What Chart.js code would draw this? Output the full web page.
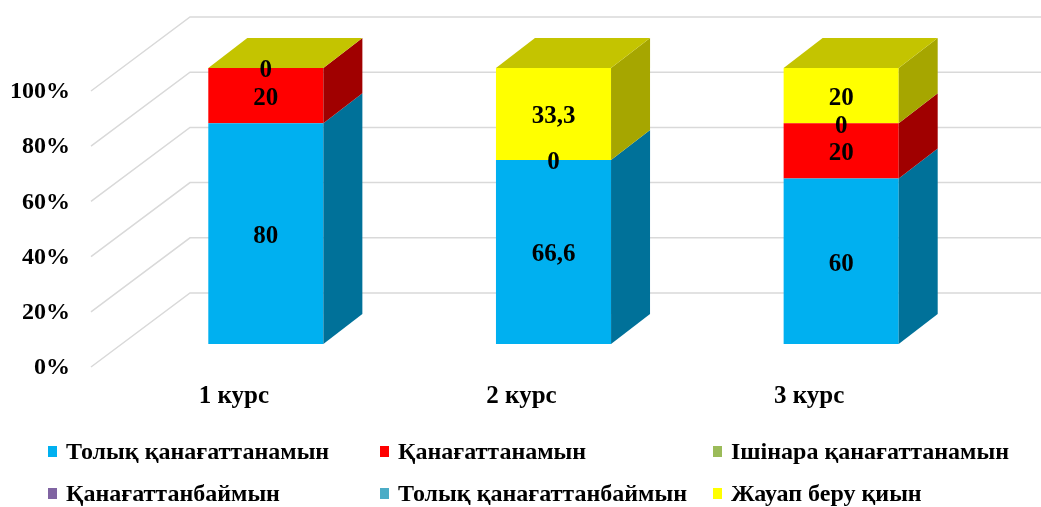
<!DOCTYPE html>
<html>
<head>
<meta charset="utf-8">
<script src="https://cdn.jsdelivr.net/npm/chart.js@4.4.1/dist/chart.umd.min.js"></script>
<style>
  html, body { margin: 0; padding: 0; background: #fff; }
  #wrap { width: 1041px; height: 507px; position: relative; }
</style>
</head>
<body>
<div id="wrap"><canvas id="chart" width="1041" height="507"></canvas></div>
<script>
// Категориялар мен серия мәндері
var categories = ['1 курс', '2 курс', '3 курс'];
var seriesNames = [
    'Толық қанағаттанамын',
    'Қанағаттанамын',
    'Ішінара қанағаттанамын',
    'Қанағаттанбаймын',
    'Толық қанағаттанбаймын',
    'Жауап беру қиын'
];
var tolyqQanag = [80, 66.6, 60];
var qanag = [20, 0, 20];
var ishinara = [null, null, 0];
var qanagBaimyn = [null, null, null];
var tolyqBaimyn = [null, null, null];
var zhauap = [0, 33.3, 20];
var yTicks = [0, 20, 40, 60, 80, 100];

var seriesValues = [tolyqQanag, qanag, ishinara, qanagBaimyn, tolyqBaimyn, zhauap];
var colors = ['#00B0F0', '#FF0000', '#9BBB59', '#8064A2', '#4BACC6', '#FFFF00'];
var sideColors = ['#007199', '#A00000', '#64793A', '#534169', '#307080', '#A6A600'];
var topColors = ['#0088B9', '#C40000', '#779047', '#634D7D', '#3A8499', '#C4C400'];

var FONT = '"Liberation Serif", "Times New Roman", serif';
var DEPTH_X = 39, DEPTH_Y = -30;     // глубина столбца
var FRONT_X = -31, FRONT_Y = 23;     // передняя плоскость осей
var BACK_X = 68, BACK_Y = -51;       // задняя стенка

// 100% нормализация
var totals = categories.map(function (c, i) {
    return seriesValues.reduce(function (s, arr) { return s + (arr[i] || 0); }, 0);
});

var datasets = seriesNames.map(function (name, k) {
    return {
        label: name,
        data: seriesValues[k].map(function (v, i) {
            return v === null ? null : v / totals[i] * 100;
        }),
        raw: seriesValues[k],
        backgroundColor: colors[k],
        borderWidth: 0,
        barPercentage: 0.4,
        categoryPercentage: 1
    };
});

function poly(ctx, pts, color) {
    ctx.beginPath();
    ctx.moveTo(pts[0][0], pts[0][1]);
    for (var i = 1; i < pts.length; i++) ctx.lineTo(pts[i][0], pts[i][1]);
    ctx.closePath();
    ctx.fillStyle = color;
    ctx.fill();
}

var wallPlugin = {
    id: 'wall',
    beforeDatasetsDraw: function (chart) {
        var ctx = chart.ctx, y = chart.scales.y, x = chart.scales.x;
        var left = chart.chartArea.left;
        ctx.save();
        ctx.strokeStyle = '#D9D9D9';
        ctx.lineWidth = 1.5;
        yTicks.forEach(function (v) {
            var py = y.getPixelForValue(v);
            ctx.beginPath();
            ctx.moveTo(left + FRONT_X, py + FRONT_Y);
            ctx.lineTo(left + BACK_X, py + BACK_Y);
            ctx.lineTo(chart.width, py + BACK_Y);
            ctx.stroke();
        });
        // подписи оси Y
        ctx.fillStyle = '#000';
        ctx.font = 'bold 24px ' + FONT;
        ctx.textAlign = 'right';
        ctx.textBaseline = 'middle';
        yTicks.forEach(function (v) {
            ctx.fillText(v + '%', 70, y.getPixelForValue(v) + FRONT_Y + 1);
        });
        // подписи категорий
        ctx.font = 'bold 25px ' + FONT;
        ctx.textAlign = 'center';
        categories.forEach(function (c, i) {
            ctx.fillText(c, x.getPixelForValue(i) + FRONT_X - 1, y.getPixelForValue(0) + FRONT_Y + 30);
        });
        ctx.restore();
    },
    afterDatasetsDraw: function (chart) {
        var ctx = chart.ctx;
        ctx.save();
        categories.forEach(function (c, i) {
            var topBar = null, topK = -1;
            chart.data.datasets.forEach(function (ds, k) {
                if (ds.data[i] === null) return;
                var b = chart.getDatasetMeta(k).data[i].getProps(['x', 'y', 'base', 'width'], true);
                var r = b.x + b.width / 2;
                if (b.base - b.y > 0) {
                    poly(ctx, [[r, b.y], [r + DEPTH_X, b.y + DEPTH_Y], [r + DEPTH_X, b.base + DEPTH_Y], [r, b.base]], sideColors[k]);
                }
                topBar = b; topK = k;
            });
            if (topBar) {
                var l = topBar.x - topBar.width / 2, r2 = topBar.x + topBar.width / 2, t = topBar.y;
                poly(ctx, [[l, t], [l + DEPTH_X, t + DEPTH_Y], [r2 + DEPTH_X, t + DEPTH_Y], [r2, t]], topColors[topK]);
            }
        });
        // подписи данных
        ctx.fillStyle = '#000';
        ctx.font = 'bold 25px ' + FONT;
        ctx.textAlign = 'center';
        ctx.textBaseline = 'middle';
        chart.data.datasets.forEach(function (ds, k) {
            ds.raw.forEach(function (v, i) {
                if (v === null) return;
                var b = chart.getDatasetMeta(k).data[i].getProps(['x', 'y', 'base'], true);
                ctx.fillText(String(v).replace('.', ','), b.x, (b.y + b.base) / 2 + 3);
            });
        });
        ctx.restore();
    },
    afterDraw: function (chart) {
        var ctx = chart.ctx;
        var colX = [48, 380, 713], rowY = [452, 494];
        ctx.save();
        ctx.font = 'bold 24px ' + FONT;
        ctx.textAlign = 'left';
        ctx.textBaseline = 'middle';
        chart.data.datasets.forEach(function (ds, k) {
            var cx = colX[k % 3], cy = rowY[Math.floor(k / 3)];
            ctx.fillStyle = colors[k];
            ctx.fillRect(cx, cy - 6, 9, 11);
            ctx.fillStyle = '#000';
            ctx.fillText(ds.label, cx + 18, cy + 1);
        });
        ctx.restore();
    }
};

new Chart(document.getElementById('chart'), {
    type: 'bar',
    data: { labels: categories, datasets: datasets },
    options: {
        responsive: false,
        animation: false,
        layout: { padding: { left: 122, right: 56, top: 68, bottom: 163 } },
        plugins: { legend: { display: false }, tooltip: { enabled: false } },
        scales: {
            x: { stacked: true, display: false },
            y: { stacked: true, display: false, min: 0, max: 100 }
        }
    },
    plugins: [wallPlugin]
});
</script>
</body>
</html>
